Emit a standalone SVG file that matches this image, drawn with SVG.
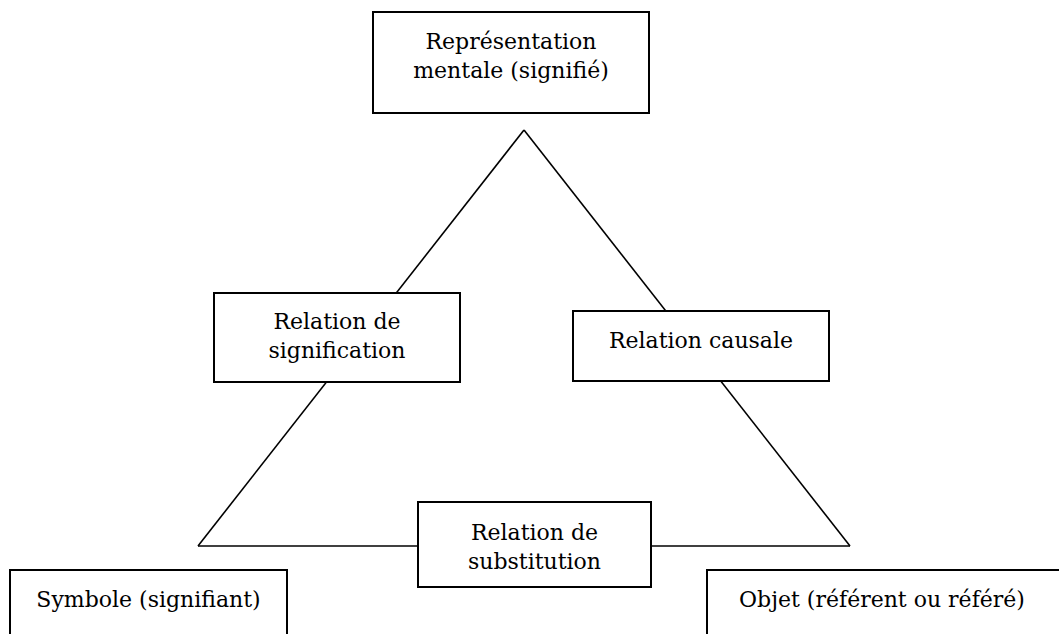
<svg xmlns="http://www.w3.org/2000/svg" width="1059" height="634" viewBox="0 0 1059 634">
  <style>
    .box { fill: #ffffff; stroke: #000000; stroke-width: 2; }
    .edge { fill: none; stroke: #000000; stroke-width: 1.6; }
    .lbl { font-family: "DejaVu Serif", "Liberation Serif", serif; font-size: 22px; fill: #000000; text-anchor: middle; }
  </style>
  <rect width="1059" height="634" fill="#ffffff"/>

  <!-- triangle sides (drawn first, boxes cover the crossings) -->
  <g id="connectors">
    <line class="edge" x1="524" y1="130" x2="198" y2="546"/>
    <line class="edge" x1="524" y1="130" x2="850" y2="546"/>
    <line class="edge" x1="198" y1="546" x2="850" y2="546"/>
  </g>

  <g id="node-representation">
    <rect class="box" x="373" y="12" width="276" height="101"/>
    <text class="lbl" x="511" y="49">Représentation</text>
    <text class="lbl" x="511" y="78">mentale (signifié)</text>
  </g>

  <g id="node-signification">
    <rect class="box" x="214" y="293" width="246" height="89"/>
    <text class="lbl" x="337" y="329">Relation de</text>
    <text class="lbl" x="337" y="358">signification</text>
  </g>

  <g id="node-causale">
    <rect class="box" x="573" y="311" width="256" height="70"/>
    <text class="lbl" x="701" y="348">Relation causale</text>
  </g>

  <g id="node-substitution">
    <rect class="box" x="418" y="502" width="233" height="85"/>
    <text class="lbl" x="534.5" y="540">Relation de</text>
    <text class="lbl" x="534.5" y="569">substitution</text>
  </g>

  <g id="node-symbole">
    <rect class="box" x="10" y="570" width="277" height="80"/>
    <text class="lbl" x="148.5" y="607">Symbole (signifiant)</text>
  </g>

  <g id="node-objet">
    <rect class="box" x="707" y="570" width="370" height="80"/>
    <text class="lbl" x="882" y="607">Objet (référent ou référé)</text>
  </g>
</svg>
